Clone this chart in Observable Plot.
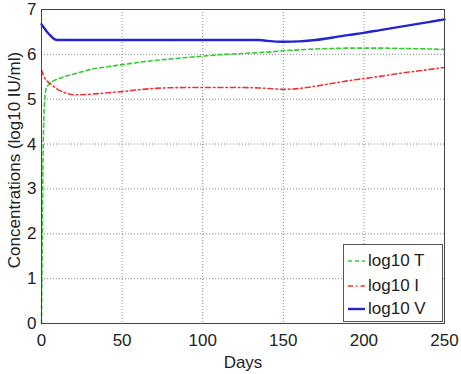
<!DOCTYPE html>
<html>
<head>
<meta charset="utf-8">
<script src="https://cdn.jsdelivr.net/npm/d3@7"></script>
<script src="https://cdn.jsdelivr.net/npm/@observablehq/plot@0.6"></script>
<style>
  html, body { margin: 0; padding: 0; background: #fff; }
  #wrap { position: relative; width: 461px; height: 374px; font-family: "Liberation Sans", Arial, sans-serif; }
  #legend { position: absolute; left: 343px; top: 244px; width: 100px; height: 78px; border: 1px solid #555; background: #fff; box-sizing: border-box; }
  #legend .row { position: absolute; left: 0; height: 20px; display: flex; align-items: center; font-size: 17px; color: #222; }
  #legend svg { margin-left: 4px; margin-right: 3px; }
</style>
</head>
<body>
<div id="wrap"></div>
<script>
const days = [0,1,2,3,5,8,10,15,20,25,30,40,50,60,75,90,100,110,125,135,140,150,160,170,180,190,200,210,225,240,250];
const logT = [0,3.8,5.0,5.25,5.34,5.42,5.45,5.51,5.56,5.61,5.66,5.72,5.77,5.82,5.88,5.93,5.96,5.99,6.02,6.04,6.05,6.08,6.10,6.12,6.13,6.14,6.14,6.14,6.13,6.12,6.11];
const logI = [5.65,5.55,5.47,5.42,5.36,5.27,5.22,5.14,5.10,5.10,5.11,5.14,5.17,5.21,5.25,5.26,5.26,5.26,5.26,5.25,5.24,5.22,5.24,5.29,5.35,5.41,5.46,5.51,5.59,5.66,5.71];
const logV = [6.67,6.62,6.57,6.52,6.44,6.34,6.32,6.32,6.32,6.32,6.32,6.32,6.32,6.32,6.32,6.32,6.32,6.32,6.32,6.32,6.30,6.28,6.29,6.32,6.37,6.43,6.48,6.54,6.63,6.72,6.78];
const seriesNames = ["log10 T", "log10 I", "log10 V"];
const xTicks = [0,50,100,150,200,250];
const yTicks = [0,1,2,3,4,5,6,7];

const styles = {
  "log10 T": {stroke: "#33cc33", strokeWidth: 1.6, dash: "4,3"},
  "log10 I": {stroke: "#ee3333", strokeWidth: 1.6, dash: "5,3,1.5,3"},
  "log10 V": {stroke: "#2424d0", strokeWidth: 2.4, dash: null}
};
const seriesValues = {"log10 T": logT, "log10 I": logI, "log10 V": logV};

const lineMarks = seriesNames.map(name => {
  const data = days.map((d, i) => ({day: d, value: seriesValues[name][i]}));
  const s = styles[name];
  return Plot.line(data, {x: "day", y: "value", stroke: s.stroke, strokeWidth: s.strokeWidth,
    strokeDasharray: s.dash || undefined, curve: "monotone-x"});
});

const chart = Plot.plot({
  width: 461,
  height: 374,
  marginLeft: 41,
  marginRight: 17,
  marginTop: 9,
  marginBottom: 51,
  style: {fontFamily: "Liberation Sans, Arial, sans-serif", fontSize: "17px", color: "#222", background: "#fff"},
  x: {domain: [0, 250], ticks: xTicks, label: null},
  y: {domain: [0, 7], ticks: yTicks, label: null},
  marks: [
    Plot.gridX(xTicks, {stroke: "#888", strokeOpacity: 1, strokeDasharray: "1,2"}),
    Plot.gridY(yTicks, {stroke: "#888", strokeOpacity: 1, strokeDasharray: "1,2"}),
    Plot.axisX(xTicks, {tickSize: 0, tickPadding: 10, fontSize: 17}),
    Plot.axisY(yTicks, {tickSize: 0, tickPadding: 5, fontSize: 17}),
    ...lineMarks,
    Plot.frame({stroke: "#444", strokeWidth: 1})
  ]
});

const wrap = document.getElementById("wrap");
wrap.appendChild(chart);

// axis titles
const svg = d3.select(chart);
svg.append("text").attr("x", 243).attr("y", 368).attr("text-anchor", "middle")
  .attr("font-size", 17).attr("fill", "#222").text("Days");
svg.append("text").attr("transform", "translate(20,160) rotate(-90)").attr("text-anchor", "middle")
  .attr("font-size", 17).attr("fill", "#222").text("Concentrations (log10 IU/ml)");

// legend
const legend = document.createElement("div");
legend.id = "legend";
const rowTops = [6, 31, 54];
seriesNames.forEach((name, i) => {
  const s = styles[name];
  const row = document.createElement("div");
  row.className = "row";
  row.style.top = rowTops[i] + "px";
  row.innerHTML = `<svg width="17" height="6"><line x1="0" y1="3" x2="17" y2="3" stroke="${s.stroke}" stroke-width="${s.strokeWidth}" ${s.dash ? `stroke-dasharray="${s.dash}"` : ""}/></svg><span>${name}</span>`;
  legend.appendChild(row);
});
wrap.appendChild(legend);
</script>
</body>
</html>
